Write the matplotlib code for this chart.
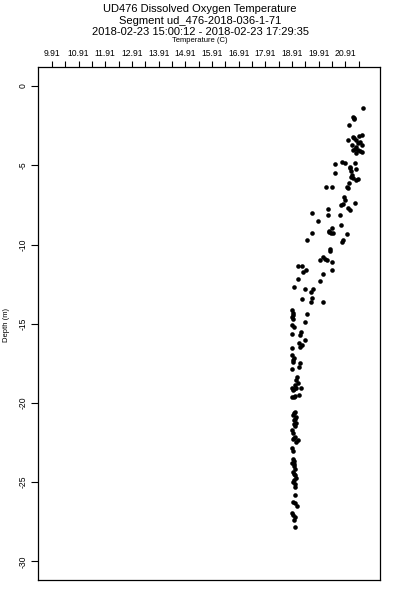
import numpy as np
import matplotlib
matplotlib.use("Agg")
from matplotlib import pyplot as plt

# titulos
titulo = "UD476 Dissolved Oxygen Temperature"
segmento = "Segment ud_476-2018-036-1-71"
periodo = "2018-02-23 15:00:12 - 2018-02-23 17:29:35"
rotulo_x = "Temperature (C)"
rotulo_y = "Depth (m)"

# ticks
ticks_x = [9.91 + 0.5 * i for i in range(24)]
labels_x = ["9.91", "10.91", "11.91", "12.91", "13.91", "14.91", "15.91",
            "16.91", "17.91", "18.91", "19.91", "20.91"]
ticks_y = [0, -5, -10, -15, -20, -25, -30]

# dados
temperatura = [
    21.58, 21.21, 21.23, 21.06, 21.21, 21.43, 21.54, 21.02, 21.33, 21.46,
    21.18, 21.31, 21.52, 21.39, 21.21, 21.54, 21.33, 21.27, 20.77, 20.90,
    20.52, 21.08, 21.12, 21.33, 20.52, 21.15, 21.21, 21.31, 21.39, 21.06,
    20.99, 21.02, 20.18, 20.43, 20.87, 20.89, 20.83, 20.75, 21.27, 21.02,
    21.08, 19.65, 20.27, 20.27, 20.71, 19.89, 20.75, 20.40, 20.31, 20.46,
    20.37, 19.68, 20.96, 19.46, 20.83, 20.77,
    20.33, 20.06, 19.98, 20.15, 20.21, 20.40, 19.14, 19.27, 19.43, 19.33,
    20.43, 20.08, 19.14, 19.96, 18.99, 19.39, 19.61, 19.71, 19.67, 19.62,
    19.29, 20.06, 18.90, 18.96, 18.93, 18.96, 19.48, 18.92, 19.39, 18.92,
    19.24, 19.21, 19.39, 19.18, 19.27, 19.21, 18.90, 18.93, 18.98, 18.96,
    19.21, 19.17, 18.96, 18.93, 19.11, 19.08, 19.14, 19.02, 18.90, 19.24,
    19.08,
    18.96, 18.93, 19.02, 19.18, 19.02, 18.96, 19.06, 18.98, 19.08, 19.02,
    18.93, 18.96, 19.02, 18.96, 19.08, 19.14, 18.93, 18.96, 18.96, 18.93,
    18.98, 19.02, 18.96, 19.02, 19.06, 18.96, 19.02, 19.04, 19.02, 18.96,
    19.02, 19.11, 18.92, 18.96, 19.02, 18.98, 19.02,
    19.00, 18.99, 19.04, 18.98, 19.00, 18.99, 19.00, 18.98, 19.00, 18.98,
    18.95, 18.97, 21.25, 21.40, 21.28, 21.47, 21.22, 21.10, 21.14, 20.30,
    20.33,
]
profundidade = [
    -1.41, -1.94, -2.08, -2.46, -3.20, -3.15, -3.09, -3.41, -3.41, -3.51,
    -3.72, -3.83, -3.72, -4.04, -4.04, -4.15, -4.25, -4.84, -4.79, -4.88,
    -4.92, -5.09, -5.36, -5.24, -5.47, -5.62, -5.82, -5.93, -5.89, -6.10,
    -6.35, -6.45, -6.39, -6.37, -7.02, -7.19, -7.44, -7.53, -7.40, -7.72,
    -7.82, -7.99, -7.78, -8.14, -8.14, -8.50, -8.79, -8.98, -9.13, -9.29,
    -9.26, -9.29, -9.36, -9.72, -9.72, -9.82,
    -10.30, -10.77, -10.98, -10.91, -10.98, -11.12, -11.34, -11.34, -11.61, -11.75,
    -11.61, -11.88, -12.20, -12.30, -12.66, -12.83, -13.02, -12.83, -13.36, -13.61,
    -13.44, -13.65, -14.13, -14.34, -14.56, -14.70, -14.40, -15.08, -14.91, -15.67,
    -15.54, -15.71, -16.04, -16.23, -16.34, -16.45, -16.51, -16.97, -17.14, -17.29,
    -17.50, -17.71, -17.43, -17.85, -18.34, -18.55, -18.76, -18.86, -19.03, -19.03,
    -19.03,
    -19.18, -19.60, -19.56, -19.50, -20.55, -20.76, -20.90, -21.07, -21.24, -21.45,
    -21.70, -21.87, -22.13, -22.29, -22.44, -22.33, -22.86, -23.01, -23.55, -23.77,
    -23.97, -24.18, -24.33, -24.54, -24.75, -24.96, -25.11, -25.32, -25.80, -26.23,
    -26.33, -26.50, -26.92, -27.07, -27.17, -27.38, -27.84,
    -19.65, -20.65, -21.00, -21.35, -22.20, -23.65, -23.87, -24.45, -24.85, -15.20,
    -14.45, -19.10, -3.30, -3.60, -3.95, -4.10, -2.00, -5.20, -5.75, -9.20,
    -10.40,
]

plt.rcParams['font.family'] = ['Liberation Sans', 'DejaVu Sans']

fig = plt.figure(figsize=(4, 6), dpi=100)
ax = fig.add_axes([0.0958, 0.0333, 0.854, 0.8545])

ax.plot(temperatura, profundidade, 'o', color='black', markersize=3.3,
        markeredgewidth=0)

ax.set_xlim(9.40, 22.21)
ax.set_ylim(-31.17, 1.18)

# eixo x em cima, como no R
ax.xaxis.tick_top()
ax.set_xticks(ticks_x)
ax.set_xticklabels([])
ax.tick_params(axis='x', length=4.5, width=0.8, top=True, bottom=False)

# rotulos do eixo x so nos graus inteiros
trans_x = matplotlib.transforms.blended_transform_factory(ax.transData, fig.transFigure)
for i, lab in enumerate(labels_x):
    ax.text(9.91 + i, 1 - 53 / 600, lab, transform=trans_x,
            ha='center', va='center', fontsize=6.2)

ax.set_yticks(ticks_y)
ax.set_yticklabels([str(v) for v in ticks_y], rotation=90, va='center',
                   fontsize=6.2)
ax.tick_params(axis='y', length=5, width=0.8, pad=3)

for s in ax.spines.values():
    s.set_linewidth(0.9)

fig.text(0.5, 1 - 9 / 600, titulo, ha='center', va='center', fontsize=8)
fig.text(0.5, 1 - 20.5 / 600, segmento, ha='center', va='center', fontsize=8)
fig.text(0.5, 1 - 32 / 600, periodo, ha='center', va='center', fontsize=8)
fig.text(0.5, 1 - 41 / 600, rotulo_x, ha='center', va='center', fontsize=5.5)
fig.text(7 / 400, 1 - 325 / 600, rotulo_y, ha='center', va='center',
         fontsize=5.5, rotation=90)

fig.savefig("out.png", dpi=100)
